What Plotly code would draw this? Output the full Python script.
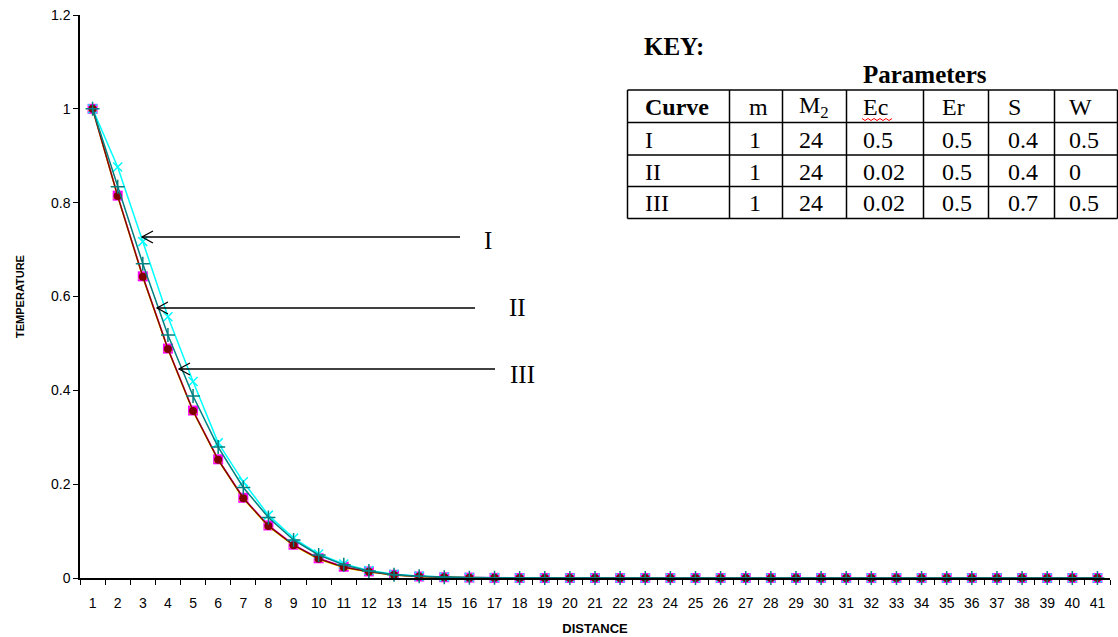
import plotly.graph_objects as go

# ---------------- data ----------------
distance = list(range(1, 42))
tick_labels = [str(i) for i in distance]

curve_maroon = [1.0, 0.814, 0.642, 0.488, 0.356, 0.252, 0.170, 0.111, 0.070, 0.041, 0.023, 0.0135, 0.0065,
                0.003, 0.0015, 0.0007, 0.0003] + [0.0] * 24
curve_magenta = [1.0, 0.815, 0.643, 0.489, 0.357, 0.253, 0.171, 0.112, 0.071, 0.042, 0.024, 0.014, 0.0068,
                 0.0032, 0.0016, 0.0008, 0.0003] + [0.0] * 24
curve_yellow = [1.0, 0.813, 0.641, 0.487, 0.355, 0.251, 0.169, 0.110, 0.069, 0.040, 0.022, 0.013, 0.0062,
                0.0029, 0.0014, 0.0006, 0.0002] + [0.0] * 24
curve_teal = [1.0, 0.834, 0.670, 0.518, 0.388, 0.279, 0.193, 0.129, 0.081, 0.049, 0.028, 0.015, 0.007,
              0.0035, 0.0015, 0.0007, 0.0003] + [0.0] * 24
curve_cyan = [1.0, 0.876, 0.717, 0.557, 0.419, 0.288, 0.205, 0.134, 0.085, 0.051, 0.030, 0.016, 0.008,
              0.004, 0.002, 0.001, 0.0004] + [0.0] * 24

key_title = "KEY:"
param_title = "Parameters"
table_header = ["Curve", "m", "M<sub>2</sub>", "Ec", "Er", "S", "W"]
table_curve = ["I", "II", "III"]
table_m = ["1", "1", "1"]
table_M2 = ["24", "24", "24"]
table_Ec = ["0.5", "0.02", "0.02"]
table_Er = ["0.5", "0.5", "0.5"]
table_S = ["0.4", "0.4", "0.7"]
table_W = ["0.5", "0", "0.5"]
arrow_labels = ["I", "II", "III"]

# ---------------- layout helpers (pixel -> paper) ----------------
W, H = 1118, 637
L, R, T, B = 80, 1110, 15, 578


def px(x):
    return (x - L) / (R - L)


def py(y):
    return (B - y) / (B - T)


fig = go.Figure()

series = [
    (curve_magenta, "#FF00FF", "square", 10, None),
    (curve_yellow, "#FFFF00", "triangle-up", 8, None),
    (curve_cyan, "#00FFFF", "x-thin", 9, 1.5),
    (curve_maroon, "#800000", "circle", 8, None),
    (curve_teal, "#008080", "cross-thin", 10, 1.5),
]
for vals, col, sym, size, mlw in series:
    marker = dict(symbol=sym, size=size, color=col)
    if mlw:
        marker["line"] = dict(color=col, width=mlw)
    fig.add_trace(go.Scatter(x=distance, y=vals, mode="lines+markers",
                             line=dict(color=col, width=1.5), marker=marker,
                             showlegend=False, hoverinfo="skip", cliponaxis=False))

fig.update_layout(
    width=W, height=H,
    margin=dict(l=L, r=W - R, t=T, b=H - B),
    paper_bgcolor="white", plot_bgcolor="white",
    font=dict(family="Liberation Sans, Arial, sans-serif", color="black"),
    xaxis=dict(
        range=[0.5, 41.5], tickmode="array", tickvals=distance, ticktext=tick_labels,
        ticks="", showgrid=False, zeroline=False, showline=True, linecolor="black", linewidth=1.5,
        tickfont=dict(size=14), ticklabelstandoff=11, automargin=False,
        minor=dict(tick0=0.5, dtick=1, ticks="outside", ticklen=5, tickcolor="black", showgrid=False),
        title=dict(text="<b>DISTANCE</b>", font=dict(size=13), standoff=14),
    ),
    yaxis=dict(
        range=[0, 1.2], tickmode="array", tickvals=[0, 0.2, 0.4, 0.6, 0.8, 1, 1.2],
        ticktext=["0", "0.2", "0.4", "0.6", "0.8", "1", "1.2"], automargin=False,
        ticks="outside", ticklen=5, tickcolor="black", showgrid=False, zeroline=False,
        showline=True, linecolor="black", linewidth=1.5, tickfont=dict(size=14),
        title=dict(text="<b>TEMPERATURE</b>", font=dict(size=11), standoff=24),
    ),
)

shapes = []
annotations = []
serif = "Liberation Serif, Times New Roman, serif"

# ---------------- arrows with labels ----------------
arrows = [(142, 460, 237, 488, 240), (157, 475, 308, 517, 307), (179, 495, 369, 522, 374)]
for (hx, tx, yy, lx, ly), lab in zip(arrows, arrow_labels):
    shapes.append(dict(type="line", xref="paper", yref="paper", x0=px(tx), y0=py(yy), x1=px(hx), y1=py(yy),
                       line=dict(color="black", width=1.3)))
    shapes.append(dict(type="path", xref="paper", yref="paper",
                       path=f"M {px(hx + 11)} {py(yy - 6)} L {px(hx)} {py(yy)} L {px(hx + 11)} {py(yy + 6)}",
                       line=dict(color="black", width=1.3)))
    annotations.append(dict(text=lab, xref="paper", yref="paper", x=px(lx), y=py(ly), showarrow=False,
                            xanchor="center", yanchor="middle", font=dict(family=serif, size=25, color="black")))

# ---------------- key table ----------------
annotations.append(dict(text="<b>" + key_title + "</b>", xref="paper", yref="paper", x=px(642), y=py(47),
                        showarrow=False, xanchor="left", yanchor="middle",
                        font=dict(family=serif, size=25, color="black")))
annotations.append(dict(text="<b>" + param_title + "</b>", xref="paper", yref="paper", x=px(925), y=py(74),
                        showarrow=False, xanchor="center", yanchor="middle",
                        font=dict(family=serif, size=25, color="black")))

col_edges = [627.5, 729.5, 782.5, 846.5, 923.5, 988.5, 1054.5, 1117.5]
row_edges = [90, 122.5, 155, 186.5, 218.5]
text_x = [643, 747, 797, 861, 940, 1006, 1067]

for xe in col_edges:
    shapes.append(dict(type="line", xref="paper", yref="paper", x0=px(xe), x1=px(xe),
                       y0=py(row_edges[0]), y1=py(row_edges[-1]), line=dict(color="black", width=1.5)))
for ye in row_edges:
    shapes.append(dict(type="line", xref="paper", yref="paper", x0=px(col_edges[0]), x1=px(col_edges[-1]),
                       y0=py(ye), y1=py(ye), line=dict(color="black", width=1.5)))

rows = [table_header] + [list(r) for r in zip(table_curve, table_m, table_M2, table_Ec, table_Er, table_S, table_W)]
for ri, row in enumerate(rows):
    yc = (row_edges[ri] + row_edges[ri + 1]) / 2 + 1
    for ci, txt in enumerate(row):
        t = "<b>" + txt + "</b>" if (ri == 0 and ci == 0) else txt
        annotations.append(dict(text=t, xref="paper", yref="paper", x=px(text_x[ci]), y=py(yc),
                                showarrow=False, xanchor="left", yanchor="middle",
                                font=dict(family=serif, size=24, color="black")))

# red spell-check squiggle under "Ec"
zz = "M " + " L ".join(f"{px(862 + 3 * i)} {py(119 + (1.5 if i % 2 else -0.5))}" for i in range(11))
shapes.append(dict(type="path", xref="paper", yref="paper", path=zz, line=dict(color="red", width=1)))

fig.update_layout(shapes=shapes, annotations=annotations)
fig.write_html("out.html")
